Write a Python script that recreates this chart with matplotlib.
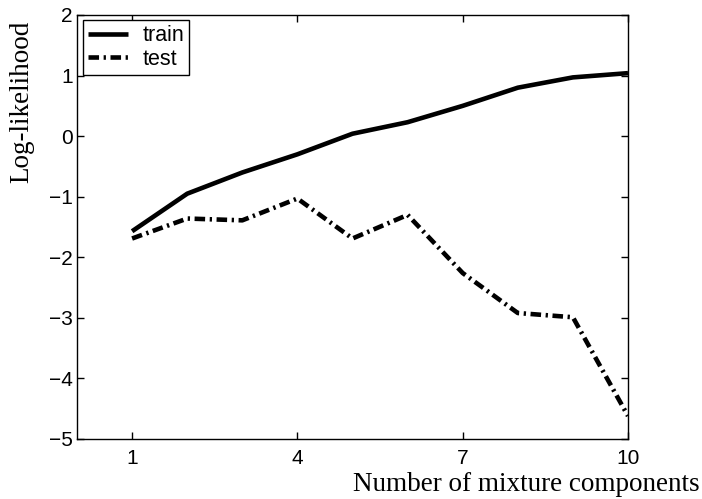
import matplotlib
matplotlib.use("Agg")
import matplotlib.pyplot as plt

components = [1, 2, 3, 4, 5, 6, 7, 8, 9, 10]
train = [-1.57, -0.95, -0.60, -0.30, 0.04, 0.23, 0.50, 0.80, 0.97, 1.04]
test = [-1.69, -1.36, -1.39, -1.03, -1.69, -1.30, -2.26, -2.92, -2.99, -4.62]
xticks = [1, 4, 7, 10]
yticks = [-5, -4, -3, -2, -1, 0, 1, 2]

W, H = 702, 499
fig = plt.figure(figsize=(W / 100, H / 100), dpi=100)
ax = fig.add_axes([77 / W, 1 - 439 / H, (628 - 77) / W, (439 - 15) / H])

ax.plot(components, train, color="black", lw=3.3, solid_capstyle="butt", label="train")
ax.plot(components, test, color="black", lw=3.3, linestyle=(0, (2.3, 1.0, 0.5, 1.0)),
        dash_capstyle="butt", label="test")

ax.set_xlim(0, 10)
ax.set_ylim(-5, 2)
ax.set_xticks(xticks)
ax.set_yticks(yticks)
ax.set_yticklabels([str(v).replace("-", "\u2212") for v in yticks])
ax.tick_params(direction="in", top=True, right=True, length=5, width=1,
               labelsize=15)
for lab in ax.get_xticklabels() + ax.get_yticklabels():
    lab.set_family("Liberation Sans")
ax.tick_params(axis="x", pad=7)
ax.tick_params(axis="y", pad=3)
for s in ax.spines.values():
    s.set_linewidth(1)

fig.text(700 / W, 1 - 491 / H, "Number of mixture components", ha="right", va="baseline",
         family="Liberation Serif", fontsize=19.5)
fig.text(22 / W, 1 - 102 / H, "Log-likelihood", ha="center", va="center", rotation=90,
         family="Liberation Serif", fontsize=19.5)

leg = ax.legend(loc="upper left", bbox_to_anchor=(0.011, 0.988), frameon=True,
                fancybox=False, edgecolor="black", framealpha=1,
                prop={"family": "Liberation Sans", "size": 15.5},
                handlelength=1.85, handletextpad=0.65, borderpad=0.25,
                labelspacing=0.1, borderaxespad=0)
leg.get_frame().set_linewidth(1)

fig.savefig("out.png", dpi=100)
